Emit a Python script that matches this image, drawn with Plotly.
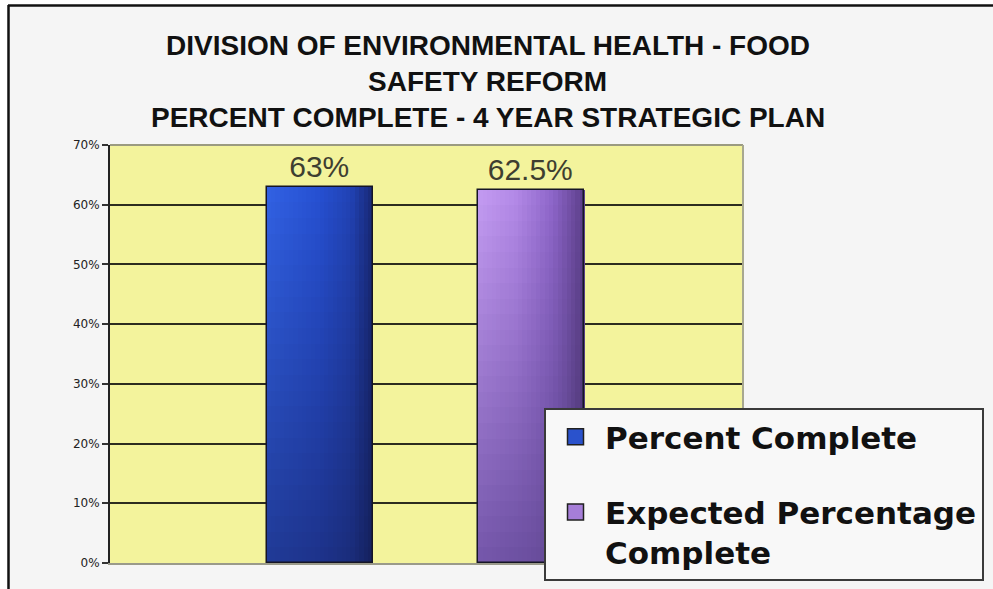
import plotly.graph_objects as go

# ---- data -------------------------------------------------------------
series = ["Percent Complete", "Expected Percentage Complete"]
legend_names = ["Percent Complete", "Expected Percentage<br>Complete"]
values = [63, 62.5]
value_labels = ["63%", "62.5%"]
y_tick_vals = [0, 10, 20, 30, 40, 50, 60, 70]
y_tick_text = ["0%", "10%", "20%", "30%", "40%", "50%", "60%", "70%"]
title_lines = [
    "DIVISION OF ENVIRONMENTAL HEALTH - FOOD",
    "SAFETY REFORM",
    "PERCENT COMPLETE - 4 YEAR STRATEGIC PLAN",
]

# ---- styling ----------------------------------------------------------
W, H = 993, 589
ML, MR, MT, MB = 110, 250, 145, 26
PW, PH = W - ML - MR, H - MT - MB

BAR_W = 0.5
NX, NY = 24, 24  # shading grid of each bar

# horizontal colour profiles (top row, bottom row) for the shaded bars
shading = [
    {
        "top": [(0.0, (50, 98, 228)), (0.5, (38, 80, 210)), (0.8, (33, 66, 180)), (1.0, (24, 40, 118))],
        "bot": [(0.0, (32, 58, 150)), (0.5, (29, 50, 138)), (0.8, (26, 44, 122)), (1.0, (20, 32, 92))],
        "legend": "#2a52cc",
    },
    {
        "top": [(0.0, (196, 156, 242)), (0.35, (180, 138, 232)), (0.7, (142, 102, 202)), (1.0, (92, 62, 138))],
        "bot": [(0.0, (116, 86, 170)), (0.5, (106, 78, 158)), (0.8, (94, 70, 142)), (1.0, (74, 54, 112))],
        "legend": "#a67ed8",
    },
]


def lerp(a, b, t):
    return tuple(a[k] + (b[k] - a[k]) * t for k in range(3))


def profile(stops, u):
    for (u0, c0), (u1, c1) in zip(stops, stops[1:]):
        if u <= u1:
            return lerp(c0, c1, (u - u0) / (u1 - u0))
    return stops[-1][1]


def rgb(c):
    return "rgb(%d,%d,%d)" % tuple(round(v) for v in c)


def px_x(px):
    return (px - ML) / PW


def px_y(py):
    return (H - MB - py) / PH


fig = go.Figure()

for s, (cat, val) in enumerate(zip(series, values)):
    sh = shading[s]
    seg = val / NY
    for i in range(NX):
        u = (i + 0.5) / NX
        top_c = profile(sh["top"], u)
        bot_c = profile(sh["bot"], u)
        cols = [rgb(lerp(bot_c, top_c, (j + 0.5) / NY)) for j in range(NY)]
        fig.add_trace(go.Bar(
            x=[cat] * NY,
            y=[seg * 1.04 if j < NY - 1 else seg for j in range(NY)],
            base=[seg * j for j in range(NY)],
            width=BAR_W / NX * 1.12,
            offset=-BAR_W / 2 + i * BAR_W / NX,
            marker=dict(color=cols, line=dict(width=0)),
            showlegend=False,
            hoverinfo="skip",
        ))
    # outline and value label
    fig.add_trace(go.Bar(
        x=[cat], y=[val],
        width=BAR_W, offset=-BAR_W / 2,
        marker=dict(color="rgba(0,0,0,0)", line=dict(color="#151525", width=1.5)),
        text=[value_labels[s]], textposition="outside",
        textfont=dict(family="Liberation Sans, Arial, sans-serif", size=30, color="#3e3e30"),
        cliponaxis=False,
        showlegend=False,
        name=cat,
    ))

# legend entries
for s, name in enumerate(legend_names):
    fig.add_trace(go.Scatter(
        x=[None], y=[None], mode="markers",
        marker=dict(symbol="square", size=16, color=shading[s]["legend"],
                    line=dict(color="#202020", width=1.5)),
        name=name, legendgroup="g%d" % s,
    ))

# title lines
for k, line in enumerate(title_lines):
    fig.add_annotation(
        text="<b>%s</b>" % line, xref="paper", yref="paper",
        x=px_x(488), y=px_y(46 + 36 * k), xanchor="center", yanchor="middle",
        showarrow=False,
        font=dict(family="Liberation Sans, Arial, sans-serif", size=28, color="#111111"),
    )

shapes = [
    # white strips outside the chart frame
    dict(type="rect", xref="paper", yref="paper", x0=px_x(-2), x1=px_x(8), y0=px_y(H + 2), y1=px_y(-2),
         fillcolor="white", line=dict(width=0), layer="below"),
    dict(type="rect", xref="paper", yref="paper", x0=px_x(-2), x1=px_x(W + 2), y0=px_y(5), y1=px_y(-2),
         fillcolor="white", line=dict(width=0), layer="below"),
    # frame edges
    dict(type="line", xref="paper", yref="paper", x0=px_x(8), x1=px_x(W + 2), y0=px_y(5.5), y1=px_y(5.5),
         line=dict(color="#111111", width=2.5)),
    dict(type="line", xref="paper", yref="paper", x0=px_x(8.5), x1=px_x(8.5), y0=px_y(5), y1=px_y(H + 2),
         line=dict(color="#111111", width=2.5)),
    # plot-area top and right edges
    dict(type="line", xref="paper", yref="paper", x0=0, x1=1, y0=1, y1=1,
         line=dict(color="#9a9a80", width=2)),
    dict(type="line", xref="paper", yref="paper", x0=1, x1=1, y0=0, y1=1,
         line=dict(color="#a8a890", width=2)),
]

fig.update_layout(
    width=W, height=H, autosize=False,
    margin=dict(l=ML, r=MR, t=MT, b=MB, pad=0, autoexpand=False),
    paper_bgcolor="#f5f5f5",
    plot_bgcolor="#f3f39c",
    barmode="overlay",
    bargap=0,
    shapes=shapes,
    showlegend=True,
    legend=dict(
        x=px_x(544), y=px_y(408), xanchor="left", yanchor="top",
        bgcolor="#f8f8f8", bordercolor="#3a3a3a", borderwidth=2,
        font=dict(family="DejaVu Sans, sans-serif", size=31, color="#111111", weight="bold"),
        traceorder="grouped", tracegroupgap=32, itemwidth=49, valign="top",
    ),
    xaxis=dict(
        type="category", categoryarray=series, range=[-0.99, 2.0],
        showticklabels=False, ticks="", showgrid=False, zeroline=False,
        showline=True, linecolor="#9a9a8a", linewidth=2, fixedrange=True,
    ),
    yaxis=dict(
        range=[0, 70], tickvals=y_tick_vals, ticktext=y_tick_text,
        ticks="outside", ticklen=6, tickwidth=2, tickcolor="#333333",
        tickfont=dict(family="DejaVu Sans, sans-serif", size=12, color="#222222"),
        showgrid=True, gridcolor="#2c2c20", gridwidth=2,
        zeroline=False, showline=True, linecolor="#222222", linewidth=2,
        fixedrange=True,
    ),
)

fig.write_html("out.html")
